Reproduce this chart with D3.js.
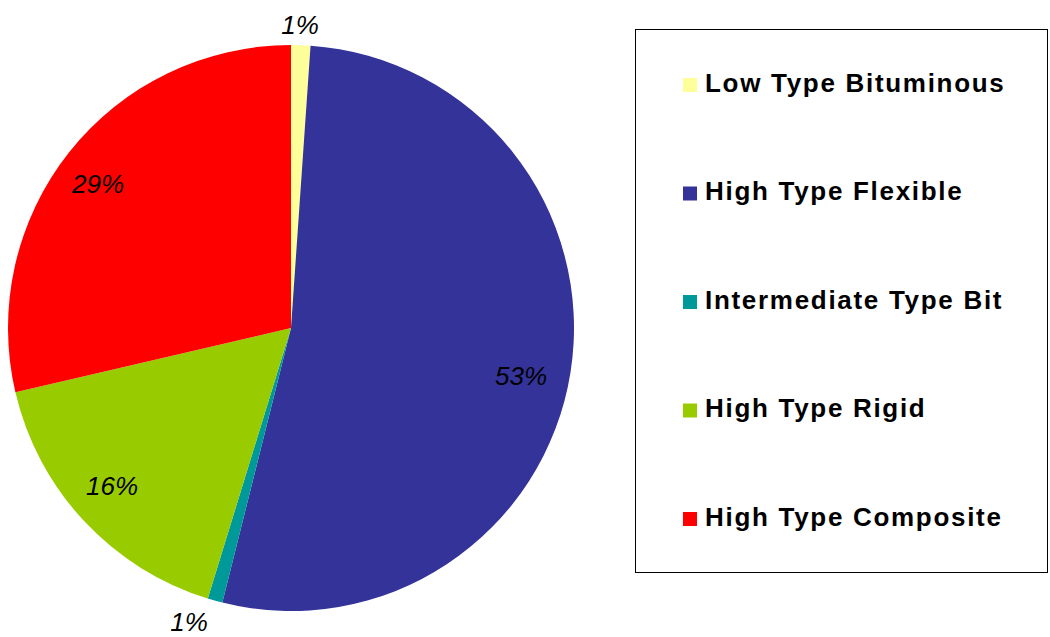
<!DOCTYPE html>
<html><head><meta charset="utf-8">
<script src="https://cdn.jsdelivr.net/npm/d3@7/dist/d3.min.js"></script>
<style>body{margin:0;background:#fff;}svg{display:block;}</style>
</head><body><svg id="c" width="1050" height="637"></svg>
<script>
const categories = ["Low Type Bituminous","High Type Flexible","Intermediate Type Bit","High Type Rigid","High Type Composite"];
const values = [1.1, 52.8, 0.85, 16.6, 28.65];
const labels = ["1%","53%","1%","16%","29%"];
const colors = ["#FFFF99","#333399","#009999","#99CC00","#FF0000"];
const labelPos = [[300,27],[521,378],[189,624],[112,488],[98,186]];

const svg = d3.select("#c");
const cx = 291, cy = 328, r = 283;
const pie = d3.pie().sort(null).value(d => d)(values);
const arc = d3.arc().innerRadius(0).outerRadius(r);
const g = svg.append("g").attr("transform", `translate(${cx},${cy})`);
g.selectAll("path").data(pie).enter().append("path")
  .attr("d", arc).attr("fill", (d,i) => colors[i]);

svg.selectAll("text.lbl").data(labels).enter().append("text")
  .attr("class","lbl")
  .attr("x", (d,i) => labelPos[i][0]).attr("y", (d,i) => labelPos[i][1])
  .attr("text-anchor","middle").attr("dominant-baseline","middle")
  .attr("font-family","Liberation Sans, Arial, sans-serif")
  .attr("font-style","italic").attr("font-size",26).attr("fill","#000")
  .text(d => d);

// legend
svg.append("rect").attr("x",635.5).attr("y",29.5).attr("width",412).attr("height",543)
  .attr("fill","#fff").attr("stroke","#000").attr("stroke-width",1);
const ly = d3.scalePoint().domain(categories).range([85, 519]);
const lg = svg.selectAll("g.leg").data(categories).enter().append("g")
  .attr("transform", d => `translate(683,${ly(d)})`);
lg.append("rect").attr("x",0).attr("y",-7).attr("width",14).attr("height",14)
  .attr("fill",(d,i)=>colors[i]);
lg.append("text").attr("x",22).attr("y",0).attr("dominant-baseline","middle")
  .attr("font-family","Liberation Sans, Arial, sans-serif").attr("font-weight","bold")
  .attr("font-size",26).attr("letter-spacing",1.7).attr("fill","#000")
  .text(d => d);
</script></body></html>
